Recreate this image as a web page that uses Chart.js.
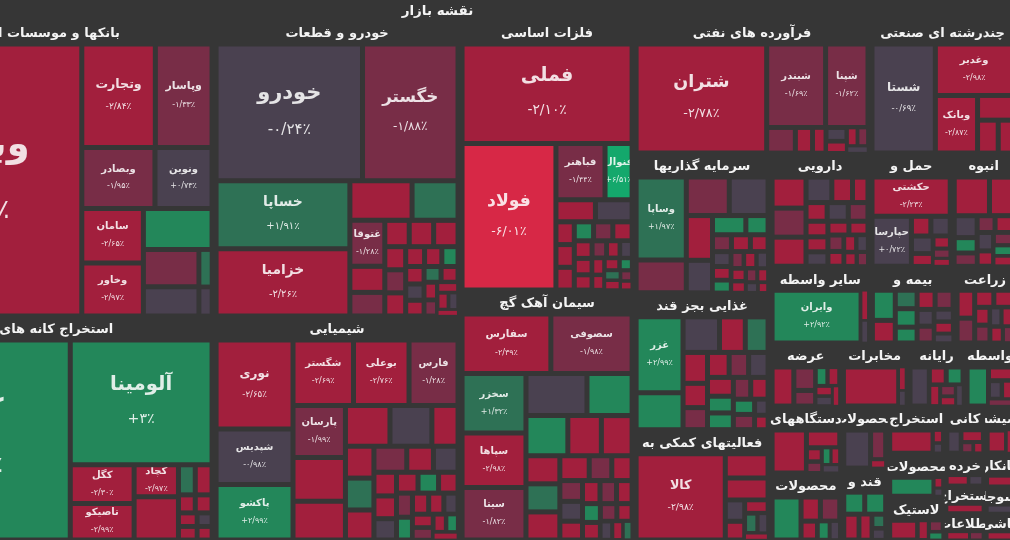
<!DOCTYPE html>
<html>
<head>
<meta charset="utf-8">
<script src="https://cdn.jsdelivr.net/npm/chart.js@4.4.1/dist/chart.umd.min.js"></script>
<style>
  html, body { margin: 0; padding: 0; background: #363636; overflow: hidden; }
  #wrap { width: 1010px; height: 540px; position: relative; background: #363636; }
  canvas { display: block; }
</style>
</head>
<body>
<div id="wrap"><canvas id="map" width="1010" height="540"></canvas></div>
<script>
// ================= DATA =================
const mapTitle = 'نقشه بازار';

const sectorIds = [
  'banks', 'mining', 'auto', 'chemical', 'metals', 'cement', 'oil', 'multi',
  'investment', 'food', 'support', 'pharma', 'transport', 'construction',
  'otherFin', 'insurance', 'agri', 'utility', 'telecom', 'computer', 'monetary',
  'electric', 'metalProd', 'paper', 'sugar', 'oilExtract', 'wood', 'rubber',
  'nonMetal', 'retail', 'coal', 'ict', 'glass', 'contract', 'textile', 'tile'
];

const sectorTitles = [
  'بانکها و موسسات اعتباری', 'استخراج کانه های فلزی', 'خودرو و قطعات', 'شیمیایی',
  'فلزات اساسی', 'سیمان آهک گچ', 'فرآورده های نفتی', 'چندرشته ای صنعتی',
  'سرمایه گذاریها', 'غذایی بجز قند وشکر', 'فعالیتهای کمکی به نهادهای مالی واسط', 'دارویی',
  'حمل و نقل', 'انبوه سازی املاک و مستغلات', 'سایر واسطه گریهای مالی', 'بیمه و صندوق بازنشستگی',
  'زراعت و خدمات وابسته', 'عرضه برق، گاز، بخار و آب گرم', 'مخابرات', 'رایانه',
  'واسطه گری های مالی', 'دستگاههای برقی', 'محصولات فلزی', 'محصولات کاغذی',
  'قند و شکر', 'استخراج نفت گاز', 'محصولات چوبی', 'لاستیک و پلاستیک',
  'کانی های غیرفلزی', 'خرده فروشی', 'استخراج زغال سنگ', 'اطلاعات و ارتباطات',
  'شیشه و سرامیک', 'پیمانکاری صنعتی', 'منسوجات', 'کاشی و سرامیک'
];

// relative market value of each sector (as read from the tile areas)
const sectorCaps = [
  104.8, 79.3, 72.8, 55.1, 47.0, 43.5, 31.4, 19.3,
  19.0, 18.6, 15.0, 11.3, 9.3, 7.1,
  7.7, 6.5, 4.6, 4.5, 4.2, 3.6, 3.15,
  4.8, 4.8, 2.85, 3.3, 2.7, 2.45, 2.5,
  1.9, 1.3, 1.1, 1.1, 1.4, 1.0, 0.8, 0.8
];

// nesting of the sector groups on the map
const sectorArrangement = [
  ['banks', 'mining'],
  ['auto', 'chemical'],
  ['metals', 'cement'],
  [
    ['oil', 'multi'],
    [
      ['investment', 'food', 'support'],
      [
        ['pharma', 'transport', 'construction'],
        ['otherFin', 'insurance', 'agri'],
        ['utility', 'telecom', 'computer', 'monetary'],
        [
          ['electric', 'metalProd'],
          ['paper', 'sugar'],
          ['oilExtract', 'wood', 'rubber'],
          ['nonMetal', 'retail', 'coal', 'ict'],
          ['glass', 'contract', 'textile', 'tile']
        ]
      ]
    ]
  ]
];

// stocks: [symbol, % change, relative value]
const banksStocks = [
  ['وبملت', -2.41, 55], ['وتجارت', -2.84, 7.0], ['وپاسار', -1.33, 5.4], ['وبصادر', -1.95, 4.1],
  ['ونوین', 0.73, 3.2], ['سامان', -2.65, 3.1], ['وخاور', -2.97, 3.0], ['', 2.35, 2.6],
  ['', -1.21, 1.9], ['', -0.42, 1.5], ['', 1.95, 0.45], ['', -0.18, 0.35]
];
const miningStocks = [
  ['کگهر', 2.63, 41.2], ['آلومینا', 3, 17.5], ['کگل', -2.30, 2.45], ['تاصیکو', -2.99, 2.3],
  ['کچاد', -2.97, 1.4], ['', -2.42, 1.9], ['', 1.12, 0.5], ['', -2.35, 0.5],
  ['', -2.51, 0.3], ['', -2.28, 0.3], ['', -2.6, 0.25], ['', -2.2, 0.25], ['', -0.3, 0.2], ['', -2.4, 0.2]
];
const autoStocks = [
  ['خودرو', -0.24, 18.7], ['خگستر', -1.88, 12.2], ['خساپا', 1.91, 8.5], ['خزامیا', -2.26, 8.4],
  ['', -2.52, 2.3], ['', 1.62, 1.7], ['غتوقا', -1.28, 1.5], ['', -2.31, 0.85], ['', -1.62, 0.77],
  ['', -2.35, 0.6], ['', -2.61, 0.6], ['', -2.18, 0.6], ['', -2.44, 0.45], ['', -1.47, 0.45],
  ['', -2.09, 0.45], ['', -2.3, 0.35], ['', -2.6, 0.32], ['', 2.1, 0.3], ['', -2.2, 0.3],
  ['', -0.4, 0.28], ['', -2.5, 0.27], ['', 1.9, 0.25], ['', -2.1, 0.25], ['', -2.7, 0.22],
  ['', -1.5, 0.2], ['', -2.3, 0.2], ['', -2.4, 0.18], ['', -0.6, 0.15], ['', -2.2, 0.12]
];
const chemicalStocks = [
  ['نوری', -2.65, 6.4], ['شپدیس', -0.98, 4.0], ['پاکشو', 2.99, 4.0], ['شگستر', -2.69, 3.7],
  ['بوعلی', -2.76, 3.4], ['فارس', -1.28, 3.0], ['پارسان', -1.99, 2.55], ['', -2.41, 2.15],
  ['', -2.33, 1.9], ['', -2.52, 1.7], ['', -0.72, 1.6], ['', -2.18, 1.0], ['', -2.45, 0.85],
  ['', 1.34, 0.85], ['', -2.31, 0.8], ['', -1.46, 0.8], ['', -2.27, 0.65], ['', -0.55, 0.6],
  ['', -2.5, 0.5], ['', -2.2, 0.48], ['', -0.6, 0.45], ['', -2.4, 0.42], ['', 2.6, 0.4],
  ['', -2.3, 0.38], ['', -1.6, 0.36], ['', 2.2, 0.34], ['', -2.6, 0.32], ['', -2.1, 0.3],
  ['', -0.4, 0.28], ['', -2.7, 0.26], ['', -1.9, 0.24], ['', -2.3, 0.22], ['', 2.4, 0.2], ['', -2.5, 0.18]
];
const metalsStocks = [
  ['فملی', -2.10, 16.2], ['فولاد', -6.01, 13.2], ['فباهنر', -1.44, 2.65], ['فنوال', 6.51, 1.46],
  ['', -2.53, 0.84], ['', -0.48, 0.78], ['', -2.21, 0.4], ['', -2.62, 0.4], ['', -2.38, 0.4],
  ['', 2.31, 0.35], ['', -1.62, 0.35], ['', -2.84, 0.35], ['', -2.2, 0.3], ['', -2.4, 0.28],
  ['', -2.6, 0.26], ['', -1.4, 0.24], ['', -2.2, 0.22], ['', -0.5, 0.2], ['', -2.9, 0.2],
  ['', -2.3, 0.18], ['', -2.5, 0.18], ['', 2.5, 0.15], ['', 1.3, 0.15], ['', -2.1, 0.15],
  ['', -1.7, 0.12], ['', -2.4, 0.1]
];
const cementStocks = [
  ['سفارس', -2.39, 4.7], ['سصوفی', -1.98, 4.3], ['سخزر', 1.32, 3.4], ['سپاها', -2.98, 3.1],
  ['سیتا', -1.82, 3.0], ['', -0.61, 2.3], ['', 2.24, 1.7], ['', 2.41, 1.5], ['', -2.52, 1.2],
  ['', -2.48, 1.1], ['', -2.63, 0.85], ['', 1.18, 0.85], ['', -2.21, 0.85], ['', -2.33, 0.65],
  ['', -1.71, 0.5], ['', -2.4, 0.45], ['', -1.5, 0.42], ['', -0.4, 0.4], ['', -2.6, 0.38],
  ['', -2.2, 0.36], ['', -1.3, 0.34], ['', -2.5, 0.32], ['', 2.2, 0.3], ['', -2.3, 0.28],
  ['', -1.8, 0.26], ['', -2.1, 0.24], ['', -0.3, 0.2], ['', -2.7, 0.18], ['', 1.6, 0.15]
];
const oilStocks = [
  ['شتران', -2.78, 14.5], ['شبندر', -1.69, 5.0], ['شپنا', -1.62, 3.6], ['', -1.52, 0.75],
  ['', -2.41, 0.45], ['', -2.27, 0.35], ['', -0.45, 0.3], ['', -2.62, 0.25], ['', -2.18, 0.2],
  ['', -1.33, 0.2], ['', -0.6, 0.15]
];
const multiStocks = [
  ['شستا', -0.69, 7.1], ['وغدیر', -2.98, 4.1], ['وبانک', -2.87, 2.5], ['', -2.43, 0.9],
  ['', -2.56, 0.7], ['', -2.21, 0.5]
];
const investmentStocks = [
  ['وساپا', 1.97, 3.9], ['', -1.52, 1.55], ['', -1.47, 1.55], ['', -0.48, 1.4], ['', -2.51, 1.1],
  ['', -0.36, 0.8], ['', 2.21, 0.6], ['', 2.37, 0.4], ['', -1.3, 0.3], ['', -2.4, 0.3],
  ['', -2.2, 0.28], ['', -0.5, 0.26], ['', -2.6, 0.24], ['', 2.1, 0.22], ['', -1.7, 0.2],
  ['', -2.3, 0.2], ['', -0.4, 0.18], ['', -2.5, 0.18], ['', -2.1, 0.16], ['', -1.4, 0.15],
  ['', -2.7, 0.14], ['', -0.2, 0.12], ['', -2.2, 0.1]
];
const foodStocks = [
  ['غزر', 2.99, 3.3], ['', 2.18, 1.6], ['', -0.52, 1.2], ['', -2.61, 0.85], ['', 1.21, 0.75],
  ['', -2.42, 0.7], ['', -2.33, 0.55], ['', -1.52, 0.5], ['', -2.57, 0.5], ['', -1.48, 0.45],
  ['', -0.61, 0.45], ['', -2.21, 0.45], ['', 2.05, 0.4], ['', 2.31, 0.4], ['', -1.36, 0.35],
  ['', -2.45, 0.35], ['', 2.12, 0.3], ['', -1.22, 0.3], ['', -0.3, 0.2], ['', -2.1, 0.18]
];
const supportStocks = [
  ['کالا', -2.98, 7.4], ['', -2.41, 1.0], ['', -2.33, 0.9], ['', -0.35, 0.4], ['', -2.52, 0.35],
  ['', -2.24, 0.3], ['', 1.6, 0.25], ['', -0.6, 0.2], ['', -2.7, 0.15]
];
const pharmaStocks = [
  ['', -2.48, 0.8], ['', -1.51, 0.75], ['', -2.62, 0.75], ['', -0.42, 0.5], ['', -2.31, 0.4],
  ['', -2.64, 0.3], ['', -2.2, 0.3], ['', -0.5, 0.3], ['', -1.5, 0.28], ['', -2.4, 0.26],
  ['', -2.6, 0.25], ['', -0.3, 0.24], ['', -2.1, 0.22], ['', -2.5, 0.2], ['', -1.3, 0.2],
  ['', -2.7, 0.18], ['', -2.3, 0.16], ['', -0.6, 0.15], ['', -2.2, 0.14], ['', -1.8, 0.12]
];
const transportStocks = [
  ['حکشتی', -2.23, 2.8], ['حپارسا', 0.72, 1.8], ['', -2.41, 0.35], ['', -0.52, 0.35],
  ['', -0.38, 0.35], ['', -2.33, 0.25], ['', -2.2, 0.2], ['', -1.4, 0.15], ['', -2.6, 0.12]
];
const constructionStocks = [
  ['', -2.52, 1.35], ['', -2.38, 0.9], ['', -0.51, 0.5], ['', 2.21, 0.35], ['', -1.42, 0.3],
  ['', -1.38, 0.3], ['', -2.27, 0.3], ['', -0.33, 0.3], ['', -2.45, 0.25], ['', -1.3, 0.25],
  ['', 2.12, 0.2], ['', -2.6, 0.2]
];
const otherFinStocks = [['وایران', 2.92, 4.25], ['', -2.3, 0.2], ['', -0.5, 0.15]];
const insuranceStocks = [
  ['', 2.42, 0.6], ['', -2.51, 0.45], ['', 1.31, 0.35], ['', 2.53, 0.35], ['', 2.11, 0.3],
  ['', -2.33, 0.3], ['', -1.42, 0.3], ['', -0.41, 0.25], ['', -1.24, 0.25], ['', -0.62, 0.2],
  ['', -2.12, 0.2], ['', 0.31, 0.15]
];
const agriStocks = [
  ['', -2.61, 0.45], ['', -1.52, 0.4], ['', -2.44, 0.3], ['', -2.73, 0.3], ['', -2.22, 0.25],
  ['', -1.61, 0.25], ['', -0.42, 0.2], ['', -2.31, 0.2], ['', -2.18, 0.2], ['', -1.35, 0.15]
];
const utilityStocks = [
  ['', -2.41, 0.75], ['', -1.52, 0.45], ['', -1.38, 0.3], ['', 2.31, 0.2], ['', -2.33, 0.2],
  ['', -2.52, 0.15], ['', -0.48, 0.15], ['', -2.21, 0.12]
];
const telecomStocks = [['', -2.47, 1.9], ['', -2.2, 0.15], ['', -0.4, 0.1]];
const computerStocks = [
  ['', -0.61, 0.5], ['', -2.42, 0.2], ['', 2.31, 0.2], ['', -2.22, 0.15], ['', -1.41, 0.12],
  ['', -2.5, 0.1], ['', -0.3, 0.1]
];
const monetaryStocks = [['', 2.31, 0.5], ['', -2.44, 0.2], ['', -0.42, 0.15], ['', -2.21, 0.12], ['', -1.32, 0.1]];
const electricStocks = [
  ['', -2.63, 1.0], ['', -2.41, 0.4], ['', -2.22, 0.15], ['', -1.4, 0.12], ['', 2.31, 0.1],
  ['', -2.5, 0.1], ['', -0.4, 0.1]
];
const metalProdStocks = [['', 2.34, 0.8], ['', -2.42, 0.3], ['', -1.51, 0.3], ['', -2.3, 0.2], ['', 2.1, 0.15], ['', -0.5, 0.12]];
const paperStocks = [['', -0.52, 0.8], ['', -1.23, 0.35], ['', -2.2, 0.1]];
const sugarStocks = [['', 2.41, 0.35], ['', 2.22, 0.35], ['', -2.45, 0.3], ['', -2.31, 0.25], ['', 1.6, 0.15], ['', -0.4, 0.12]];
const oilExtractStocks = [['', -2.55, 0.8], ['', -2.3, 0.1], ['', -0.4, 0.08]];
const woodStocks = [['', 2.36, 0.7], ['', -2.2, 0.08], ['', -0.5, 0.06]];
const rubberStocks = [['', -2.48, 0.5], ['', -2.3, 0.2], ['', -1.5, 0.15], ['', 2.1, 0.1]];
const nonMetalStocks = [['', -0.55, 0.25], ['', -2.41, 0.2], ['', -1.4, 0.1], ['', -2.2, 0.08]];
const retailStocks = [['', -2.3, 0.15], ['', -0.5, 0.1]];
const coalStocks = [['', -2.2, 0.1]];
const ictStocks = [['', -2.5, 0.1], ['', -1.4, 0.06]];
const glassStocks = [['', -2.52, 0.3], ['', -2.2, 0.1]];
const contractStocks = [['', -2.3, 0.1]];
const textileStocks = [['', -0.5, 0.1]];
const tileStocks = [['', -2.3, 0.1]];

const sectorStocks = [
  banksStocks, miningStocks, autoStocks, chemicalStocks, metalsStocks, cementStocks, oilStocks, multiStocks,
  investmentStocks, foodStocks, supportStocks, pharmaStocks, transportStocks, constructionStocks,
  otherFinStocks, insuranceStocks, agriStocks, utilityStocks, telecomStocks, computerStocks, monetaryStocks,
  electricStocks, metalProdStocks, paperStocks, sugarStocks, oilExtractStocks, woodStocks, rubberStocks,
  nonMetalStocks, retailStocks, coalStocks, ictStocks, glassStocks, contractStocks, textileStocks, tileStocks
];

// ================= STYLE HELPERS =================
const FONT = '"DejaVu Sans", sans-serif';
function changeColor(c) {
  if (c <= -4) return '#d72846';
  if (c <= -2) return '#a21f3d';
  if (c <= -1) return '#782d47';
  if (c < 1) return '#4a4150';
  if (c < 2) return '#2e7155';
  if (c < 4) return '#23875a';
  return '#14a86c';
}
function formatChange(v) {
  const fa = '۰۱۲۳۴۵۶۷۸۹';
  const a = Math.abs(v);
  let s = Number.isInteger(a) ? String(a) : a.toFixed(2);
  s = s.replace('.', '/').replace(/\d/g, d => fa[d]);
  return (v > 0 ? '+' : v < 0 ? '-' : '') + s + '٪';
}

// ================= LAYOUT ALGORITHMS =================
function worstRatio(row, side) {
  let s = 0, mx = -Infinity, mn = Infinity;
  for (const a of row) { s += a; if (a > mx) mx = a; if (a < mn) mn = a; }
  const s2 = s * s, q = side * side;
  return Math.max(q * mx / s2, s2 / (q * mn));
}
function squarify(values, rect) {
  const out = [];
  const total = values.reduce((a, b) => a + b, 0);
  const W = rect.x1 - rect.x0, H = rect.y1 - rect.y0;
  if (!(total > 0) || !(W > 0) || !(H > 0)) {
    return values.map(() => ({ x0: rect.x0, y0: rect.y0, x1: rect.x0, y1: rect.y0 }));
  }
  const k = (W * H) / total;
  const areas = values.map(v => v * k);
  let x0 = rect.x0, y0 = rect.y0;
  const x1 = rect.x1, y1 = rect.y1;
  let i = 0;
  while (i < areas.length) {
    const w = x1 - x0, h = y1 - y0;
    const side = Math.min(w, h);
    let row = [areas[i]];
    let best = worstRatio(row, side);
    let j = i + 1;
    while (j < areas.length) {
      const cand = row.concat(areas[j]);
      const r = worstRatio(cand, side);
      if (r <= best) { row = cand; best = r; j++; } else break;
    }
    const rs = row.reduce((a, b) => a + b, 0);
    if (w >= h) {
      const cw = rs / h; let yy = y0;
      for (const a of row) { const ch = a / cw; out.push({ x0, y0: yy, x1: x0 + cw, y1: yy + ch }); yy += ch; }
      x0 += cw;
    } else {
      const rh = rs / w; let xx = x0;
      for (const a of row) { const cw = a / rh; out.push({ x0: xx, y0, x1: xx + cw, y1: y0 + rh }); xx += cw; }
      y0 += rh;
    }
    i = j;
  }
  return out;
}
function fitWords(ctx, text, avail) {
  const words = text.split(' ');
  let best = words[0];
  for (let n = 2; n <= words.length; n++) {
    const t = words.slice(0, n).join(' ');
    if (ctx.measureText(t).width <= avail) best = t; else break;
  }
  return best;
}

// ================= CHART.JS CONTROLLER =================
class MarketMapController extends Chart.DatasetController {
  static id = 'marketmap';
  static defaults = { dataElementType: 'bar', datasetElementType: false };
  static overrides = {
    scales: {
      x: { type: 'linear', display: false },
      y: { type: 'linear', display: false, reverse: true }
    }
  };

  update(mode) {
    const meta = this._cachedMeta;
    this.updateElements(meta.data, 0, meta.data.length, mode);
  }

  computeLayout() {
    const meta = this._cachedMeta;
    const ds = this.getDataset();
    const xs = meta.xScale, ys = meta.yScale;
    if (!xs || !ys) return null;
    const root = {
      x0: xs.getPixelForValue(ds.extentX[0]), x1: xs.getPixelForValue(ds.extentX[1]),
      y0: ys.getPixelForValue(ds.extentY[0]), y1: ys.getPixelForValue(ds.extentY[1])
    };
    if (![root.x0, root.x1, root.y0, root.y1].every(Number.isFinite)) return null;
    const idIndex = {};
    ds.sectorIds.forEach((id, i) => { idIndex[id] = i; });
    const valueOf = (node) => typeof node === 'string'
      ? ds.sectorCaps[idIndex[node]]
      : node.reduce((a, n) => a + valueOf(n), 0);
    const sectors = [];
    const place = (node, r, depth) => {
      if (typeof node === 'string') { sectors[idIndex[node]] = r; return; }
      const total = valueOf(node);
      let pos = depth % 2 === 0 ? r.x0 : r.y0;
      for (const child of node) {
        const f = valueOf(child) / total;
        if (depth % 2 === 0) {
          const w = (r.x1 - r.x0) * f;
          place(child, { x0: pos, x1: pos + w, y0: r.y0, y1: r.y1 }, depth + 1); pos += w;
        } else {
          const h = (r.y1 - r.y0) * f;
          place(child, { x0: r.x0, x1: r.x1, y0: pos, y1: pos + h }, depth + 1); pos += h;
        }
      }
    };
    const TITLE_H = 22, HEAD_H = 22;
    place(ds.tree, { x0: root.x0, x1: root.x1, y0: root.y0 + TITLE_H, y1: root.y1 }, 0);
    const data = ds.data;
    const cellRects = new Array(data.length);
    const heads = [];
    sectors.forEach((r, s) => {
      const h = r.y1 - r.y0;
      const head = Math.min(HEAD_H, h * 0.62);
      heads[s] = head;
      const inner = { x0: r.x0 + 2, x1: r.x1 - 2, y0: r.y0 + head, y1: r.y1 - 2 };
      const idx = [];
      data.forEach((c, i) => { if (c.sector === s) idx.push(i); });
      const rects = squarify(idx.map(i => data[i].weight), inner);
      idx.forEach((i, k) => { cellRects[i] = rects[k]; });
    });
    return { root, titleH: TITLE_H, sectors, heads, cellRects };
  }

  updateElements(elements, start, count, mode) {
    const L = this.computeLayout();
    this._mapLayout = L;
    const ds = this.getDataset();
    for (let i = start; i < start + count; i++) {
      const c = ds.data[i];
      const r = L && L.cellRects[i];
      let props;
      if (!r) {
        props = { x: 0, y: 0, base: 0, width: 0, height: 0 };
      } else {
        const w = r.x1 - r.x0, h = r.y1 - r.y0;
        const pad = Math.min(2.5, Math.max(0, Math.min(w, h)) * 0.18);
        const x0 = r.x0 + pad, x1 = Math.max(x0, r.x1 - pad);
        const y0 = r.y0 + pad, y1 = Math.max(y0, r.y1 - pad);
        props = { x: (x0 + x1) / 2, y: y0, base: y1, width: x1 - x0, height: y1 - y0 };
      }
      Object.assign(props, {
        horizontal: false, inflateAmount: 0, borderSkipped: {}, enableBorderRadius: false,
        options: {
          backgroundColor: changeColor(c.change), borderColor: 'rgba(0,0,0,0)',
          borderWidth: 0, borderRadius: 0, borderSkipped: false, inflateAmount: 0
        }
      });
      this.updateElement(elements[i], i, props, mode);
    }
  }

  draw() {
    super.draw();
    const L = this._mapLayout;
    if (!L) return;
    const ctx = this.chart.ctx;
    const ds = this.getDataset();
    const els = this._cachedMeta.data;

    // stock labels
    ds.data.forEach((c, i) => {
      if (!c.name) return;
      const el = els[i];
      const w = el.width, h = el.height;
      if (!(w > 10 && h > 14)) return;
      const l = el.x - w / 2, t = el.y;
      const cx = el.x, cy = t + h / 2;
      const fs = Math.max(10, Math.min(44, Math.sqrt(w * h) / 6.5));
      const pfs = Math.max(8, fs * 0.72);
      ctx.save();
      ctx.beginPath(); ctx.rect(l, t, w, h); ctx.clip();
      ctx.fillStyle = 'rgba(255,255,255,0.86)';
      ctx.textAlign = 'center'; ctx.textBaseline = 'middle';
      ctx.direction = 'rtl';
      ctx.font = `bold ${fs.toFixed(1)}px ${FONT}`;
      ctx.fillText(c.name, cx, cy - fs * 0.9);
      ctx.direction = 'ltr';
      ctx.font = `${pfs.toFixed(1)}px ${FONT}`;
      ctx.fillText(formatChange(c.change), cx, cy + fs * 0.85);
      ctx.restore();
    });

    // sector headers
    ctx.save();
    ctx.fillStyle = '#f4f4f4';
    ctx.textBaseline = 'middle';
    ctx.textAlign = 'center';
    ctx.direction = 'rtl';
    ctx.font = `bold 13px ${FONT}`;
    L.sectors.forEach((r, s) => {
      const head = L.heads[s];
      const w = r.x1 - r.x0;
      const text = fitWords(ctx, ds.sectorTitles[s], w - 10);
      ctx.save();
      ctx.beginPath(); ctx.rect(r.x0, r.y0, w, head); ctx.clip();
      ctx.fillText(text, (r.x0 + r.x1) / 2, r.y0 + Math.min(11, head / 2) + 1);
      ctx.restore();
    });
    // map title
    ctx.font = `bold 13.5px ${FONT}`;
    ctx.fillText(ds.title, (L.root.x0 + L.root.x1) / 2, L.root.y0 + L.titleH / 2);
    ctx.restore();
  }
}
Chart.register(MarketMapController);

// ================= BUILD CHART =================
const marketCells = [];
sectorStocks.forEach((stocks, s) => {
  stocks.forEach(([name, change, weight]) => marketCells.push({ sector: s, name, change, weight }));
});

Chart.defaults.font.family = FONT;

new Chart(document.getElementById('map'), {
  type: 'marketmap',
  data: {
    datasets: [{
      label: mapTitle,
      title: mapTitle,
      data: marketCells,
      parsing: false,
      tree: sectorArrangement,
      sectorIds: sectorIds,
      sectorTitles: sectorTitles,
      sectorCaps: sectorCaps,
      extentX: [0, 1155],
      extentY: [0, 542]
    }]
  },
  options: {
    responsive: false,
    animation: false,
    events: [],
    layout: { padding: 0 },
    scales: {
      x: { type: 'linear', display: false, min: 140, max: 1150, bounds: 'data' },
      y: { type: 'linear', display: false, min: 0, max: 540, reverse: true, bounds: 'data' }
    },
    plugins: { legend: { display: false }, tooltip: { enabled: false }, title: { display: false } }
  }
});
</script>
</body>
</html>
